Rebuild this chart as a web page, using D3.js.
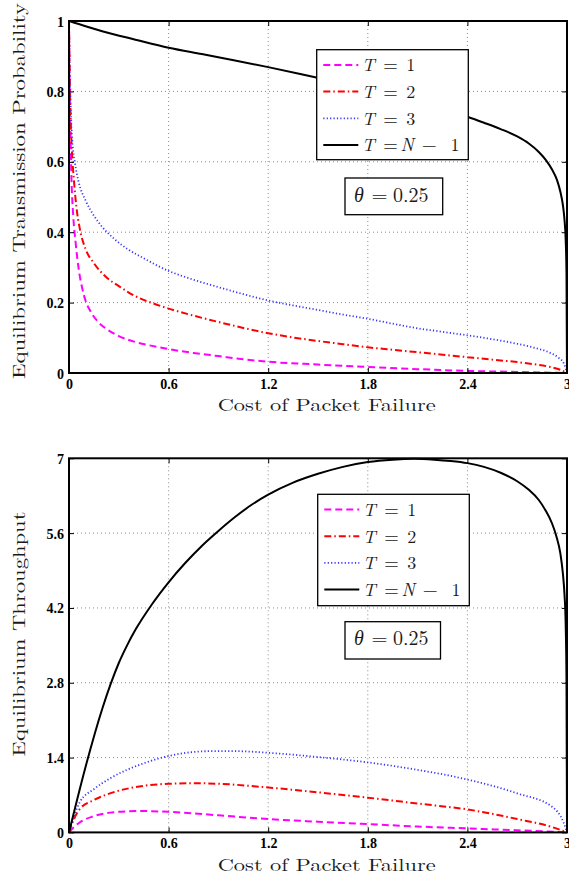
<!DOCTYPE html>
<html>
<head>
<meta charset="utf-8">
<script src="https://cdn.jsdelivr.net/npm/d3@7"></script>
<style>
  html, body { margin: 0; padding: 0; background: #fff; }
  svg { display: block; }
  .tick text { font-family: "Liberation Serif", "Times New Roman", serif; font-weight: bold; font-size: 14px; fill: #000; }
  .lbl { font-family: "Latin Modern Roman", "Liberation Serif", serif; font-size: 17.5px; fill: #1a1a1a; }
  .leg { font-family: "Latin Modern Roman", "Liberation Serif", serif; font-size: 18px; fill: #1a1a1a; }
</style>
</head>
<body>
<div id="chart"></div>
<script>
// Two stacked MATLAB-style panels: transmission probability and throughput
// against the cost of packet failure, theta = 0.25.

const xTicks = [0, 0.6, 1.2, 1.8, 2.4, 3];
const probTicks = [0, 0.2, 0.4, 0.6, 0.8, 1];
const thrTicks = [0, 1.4, 2.8, 4.2, 5.6, 7];
const seriesNames = ["T = 1", "T = 2", "T = 3", "T = N - 1"];
const thetaLabel = "0.25";

// [cost, probability]
const probT1 = [[0, 1], [0.003, 0.85], [0.008, 0.7], [0.015, 0.55], [0.025, 0.45], [0.04, 0.37],
  [0.06, 0.29], [0.08, 0.24], [0.1, 0.205], [0.13, 0.175], [0.17, 0.148], [0.22, 0.127],
  [0.3, 0.105], [0.4, 0.088], [0.5, 0.077], [0.6, 0.068], [0.75, 0.057], [0.9, 0.048],
  [1.05, 0.039], [1.2, 0.032], [1.5, 0.024], [1.8, 0.017], [2.1, 0.011], [2.4, 0.006],
  [2.7, 0.003], [3, 0]];
const probT2 = [[0, 1], [0.004, 0.85], [0.01, 0.72], [0.02, 0.61], [0.03, 0.545], [0.045, 0.47],
  [0.065, 0.41], [0.1, 0.352], [0.15, 0.312], [0.22, 0.274], [0.3, 0.247], [0.4, 0.218],
  [0.5, 0.199], [0.6, 0.183], [0.75, 0.163], [0.9, 0.145], [1.05, 0.128], [1.2, 0.113],
  [1.35, 0.101], [1.5, 0.091], [1.65, 0.082], [1.8, 0.073], [1.95, 0.066], [2.1, 0.059],
  [2.25, 0.052], [2.4, 0.045], [2.55, 0.038], [2.7, 0.031], [2.8, 0.025], [2.9, 0.017],
  [2.96, 0.009], [3, 0]];
const probT3 = [[0, 1], [0.004, 0.88], [0.01, 0.76], [0.02, 0.66], [0.035, 0.6], [0.058, 0.543],
  [0.1, 0.49], [0.15, 0.447], [0.2, 0.415], [0.27, 0.382], [0.35, 0.353], [0.45, 0.326],
  [0.6, 0.29], [0.75, 0.265], [0.9, 0.244], [1.05, 0.224], [1.2, 0.206], [1.35, 0.192],
  [1.5, 0.179], [1.65, 0.166], [1.8, 0.154], [1.95, 0.14], [2.1, 0.127], [2.25, 0.117],
  [2.4, 0.107], [2.55, 0.096], [2.7, 0.083], [2.8, 0.072], [2.9, 0.057], [2.95, 0.043],
  [2.98, 0.028], [3, 0]];
const probTN = [[0, 1], [0.1, 0.985], [0.2, 0.971], [0.4, 0.947], [0.6, 0.924], [0.8, 0.906],
  [1.0, 0.888], [1.2, 0.869], [1.4, 0.849], [1.6, 0.828], [1.8, 0.806], [2.0, 0.783],
  [2.2, 0.757], [2.4, 0.728], [2.5, 0.711], [2.6, 0.693], [2.7, 0.672], [2.77, 0.652],
  [2.83, 0.628], [2.873, 0.605], [2.91, 0.578], [2.94, 0.548], [2.96, 0.515], [2.975, 0.478],
  [2.985, 0.435], [2.992, 0.38], [2.997, 0.28], [3, 0]];

// [cost, throughput]
const thrT1 = [[0, 0], [0.03, 0.1], [0.066, 0.19], [0.146, 0.3], [0.247, 0.37], [0.42, 0.4],
  [0.6, 0.385], [0.9, 0.32], [1.2, 0.25], [1.5, 0.2], [1.8, 0.155], [2.1, 0.11], [2.4, 0.075],
  [2.7, 0.04], [3, 0]];
const thrT2 = [[0, 0], [0.03, 0.25], [0.066, 0.44], [0.146, 0.6], [0.247, 0.73], [0.447, 0.87],
  [0.6, 0.91], [0.75, 0.92], [0.9, 0.91], [1.2, 0.84], [1.5, 0.75], [1.8, 0.65], [2.1, 0.54],
  [2.4, 0.43], [2.7, 0.25], [2.91, 0.1], [3, 0]];
const thrT3 = [[0, 0], [0.03, 0.3], [0.066, 0.57], [0.146, 0.8], [0.247, 1.01], [0.447, 1.29],
  [0.6, 1.43], [0.85, 1.52], [1.0, 1.52], [1.2, 1.49], [1.5, 1.41], [1.8, 1.31], [2.1, 1.17],
  [2.4, 0.99], [2.7, 0.73], [2.91, 0.48], [2.98, 0.18], [3, 0]];
const thrTN = [[0, 0], [0.1, 1.23], [0.2, 2.31], [0.25, 2.77], [0.3, 3.17], [0.35, 3.5],
  [0.4, 3.79], [0.5, 4.27], [0.6, 4.68], [0.7, 5.04], [0.8, 5.36], [0.9, 5.64], [1.0, 5.9],
  [1.1, 6.13], [1.2, 6.32], [1.35, 6.545], [1.5, 6.71], [1.65, 6.84], [1.8, 6.93],
  [1.95, 6.975], [2.08, 6.99], [2.2, 6.975], [2.3, 6.95], [2.4, 6.91], [2.5, 6.84],
  [2.6, 6.73], [2.7, 6.57], [2.77, 6.41], [2.83, 6.22], [2.87, 6.03], [2.91, 5.78],
  [2.935, 5.55], [2.96, 5.22], [2.975, 4.85], [2.985, 4.45], [2.992, 3.9], [2.997, 2.8], [3, 0]];

// line styles per series (MATLAB: m--, r-., b:, k-)
const styles = [
  { color: "#ff00ff", width: 2, dash: "7,4" },
  { color: "#ff0000", width: 2, dash: "7,3,1.5,3" },
  { color: "#3535ff", width: 1.8, dash: "1.2,2.2" },
  { color: "#000000", width: 2, dash: null },
];

const W = 569, H = 877;
const X0 = 69, X1 = 567;

const panels = [
  {
    top: 21, bottom: 373, yMax: 1, ticks: probTicks,
    series: [probT1, probT2, probT3, probTN],
    ylabel: "Equilibrium Transmission Probability", ylabelY: 191, ylabelLen: 376,
    xlabelY: 411.2,
    legend: { x: 316.7, y: 49.7, w: 151.6, h: 110 },
    theta: { x: 345, y: 178, w: 97.7, h: 36.7 },
  },
  {
    top: 458.3, bottom: 832.4, yMax: 7, ticks: thrTicks,
    series: [thrT1, thrT2, thrT3, thrTN],
    ylabel: "Equilibrium Throughput", ylabelY: 634, ylabelLen: 245,
    xlabelY: 870.5,
    legend: { x: 317.7, y: 494.3, w: 151.6, h: 111.4 },
    theta: { x: 345, y: 621.7, w: 95.5, h: 37.3 },
  },
];

const svg = d3.select("#chart").append("svg").attr("width", W).attr("height", H);
const x = d3.scaleLinear().domain([0, 3]).range([X0, X1]);

panels.forEach((p, pi) => {
  const y = d3.scaleLinear().domain([0, p.yMax]).range([p.bottom, p.top]);
  const g = svg.append("g");

  // dotted grid
  const grid = g.append("g").attr("stroke", "#8a8a8a").attr("stroke-width", 1).attr("stroke-dasharray", "1,3");
  grid.selectAll("line.v").data(xTicks.slice(1, -1)).join("line").attr("class", "v")
    .attr("x1", (d) => x(d)).attr("x2", (d) => x(d)).attr("y1", p.top).attr("y2", p.bottom);
  grid.selectAll("line.h").data(p.ticks.slice(1, -1)).join("line").attr("class", "h")
    .attr("x1", X0).attr("x2", X1).attr("y1", (d) => y(d)).attr("y2", (d) => y(d));

  // curves
  const clipId = "clip" + pi;
  svg.append("clipPath").attr("id", clipId).append("rect")
    .attr("x", X0).attr("y", p.top - 1).attr("width", X1 - X0).attr("height", p.bottom - p.top + 1);
  const line = d3.line().x((d) => x(d[0])).y((d) => y(d[1])).curve(d3.curveMonotoneX);
  g.append("g").attr("clip-path", `url(#${clipId})`).selectAll("path").data(p.series).join("path")
    .attr("fill", "none")
    .attr("stroke", (d, i) => styles[i].color)
    .attr("stroke-width", (d, i) => styles[i].width)
    .attr("stroke-dasharray", (d, i) => styles[i].dash)
    .attr("d", line);

  // axes: ticks inward on all four sides
  const tf = (d) => String(d);
  const axB = g.append("g").attr("transform", `translate(0,${p.bottom})`)
    .call(d3.axisBottom(x).tickValues(xTicks).tickSize(-5).tickSizeOuter(0).tickPadding(6).tickFormat(tf));
  const axT = g.append("g").attr("transform", `translate(0,${p.top})`)
    .call(d3.axisTop(x).tickValues(xTicks).tickSize(-5).tickSizeOuter(0).tickFormat(""));
  const axL = g.append("g").attr("transform", `translate(${X0},0)`)
    .call(d3.axisLeft(y).tickValues(p.ticks).tickSize(-5).tickSizeOuter(0).tickPadding(5).tickFormat(tf));
  const axR = g.append("g").attr("transform", `translate(${X1},0)`)
    .call(d3.axisRight(y).tickValues(p.ticks).tickSize(-5).tickSizeOuter(0).tickFormat(""));
  [axB, axT, axL, axR].forEach((a) => {
    a.select(".domain").remove();
    a.selectAll(".tick line").attr("stroke", "#000").attr("stroke-width", 1);
    a.attr("font-family", null).attr("font-size", null);
  });
  axL.selectAll(".tick text").attr("dy", "0.36em");

  g.append("rect").attr("x", X0).attr("y", p.top).attr("width", X1 - X0).attr("height", p.bottom - p.top)
    .attr("fill", "none").attr("stroke", "#000").attr("stroke-width", 2);

  // axis labels
  g.append("text").attr("class", "lbl").attr("text-anchor", "middle")
    .attr("x", 326.7).attr("y", p.xlabelY)
    .attr("textLength", 218).attr("lengthAdjust", "spacingAndGlyphs")
    .text("Cost of Packet Failure");
  g.append("text").attr("class", "lbl").attr("text-anchor", "middle")
    .attr("transform", `translate(25,${p.ylabelY}) rotate(-90)`)
    .attr("textLength", p.ylabelLen).attr("lengthAdjust", "spacingAndGlyphs")
    .text(p.ylabel);

  // legend
  const L = p.legend;
  const leg = g.append("g");
  leg.append("rect").attr("x", L.x).attr("y", L.y).attr("width", L.w).attr("height", L.h)
    .attr("fill", "#fff").attr("stroke", "#000").attr("stroke-width", 1.3);
  seriesNames.forEach((name, i) => {
    const cy = L.y + 15.2 + i * 26.7;
    const s = styles[i];
    leg.append("line").attr("x1", L.x + 6.6).attr("x2", L.x + 41.6).attr("y1", cy).attr("y2", cy)
      .attr("stroke", s.color).attr("stroke-width", s.width).attr("stroke-dasharray", s.dash);
    const parts = name.split(" ");  // T, =, value | T, =, N, -, 1
    const bx = L.x + 45, by = cy + 6.3;
    const put = (t, dx, italic, len) => {
      const tx = leg.append("text").attr("class", "leg").attr("x", bx + dx).attr("y", by)
        .style("font-style", italic ? "italic" : "normal").text(t);
      if (len) tx.attr("textLength", len).attr("lengthAdjust", "spacingAndGlyphs");
    };
    put(parts[0], 0, true);
    put("=", 21.6, false, 14.5);
    if (parts.length === 3) {
      put(parts[2], 44.5, false);
    } else {
      put(parts[2], 38.8, true);
      put("\u2212", 60, false, 15);
      put(parts[4], 88.8, false);
    }
  });

  // theta annotation
  const Tb = p.theta;
  g.append("rect").attr("x", Tb.x).attr("y", Tb.y).attr("width", Tb.w).attr("height", Tb.h)
    .attr("fill", "#fff").attr("stroke", "#000").attr("stroke-width", 1.3);
  const ty = Tb.y + 23.5;
  g.append("text").attr("class", "leg").style("font-size", "20px").style("font-style", "italic")
    .attr("x", Tb.x + 9).attr("y", ty).text("\u03b8");
  g.append("text").attr("class", "leg").style("font-size", "20px")
    .attr("x", Tb.x + 26.5).attr("y", ty).attr("textLength", 16).attr("lengthAdjust", "spacingAndGlyphs").text("=");
  g.append("text").attr("class", "leg").style("font-size", "20px")
    .attr("x", Tb.x + 48).attr("y", ty).text(thetaLabel);
});
</script>
</body>
</html>
